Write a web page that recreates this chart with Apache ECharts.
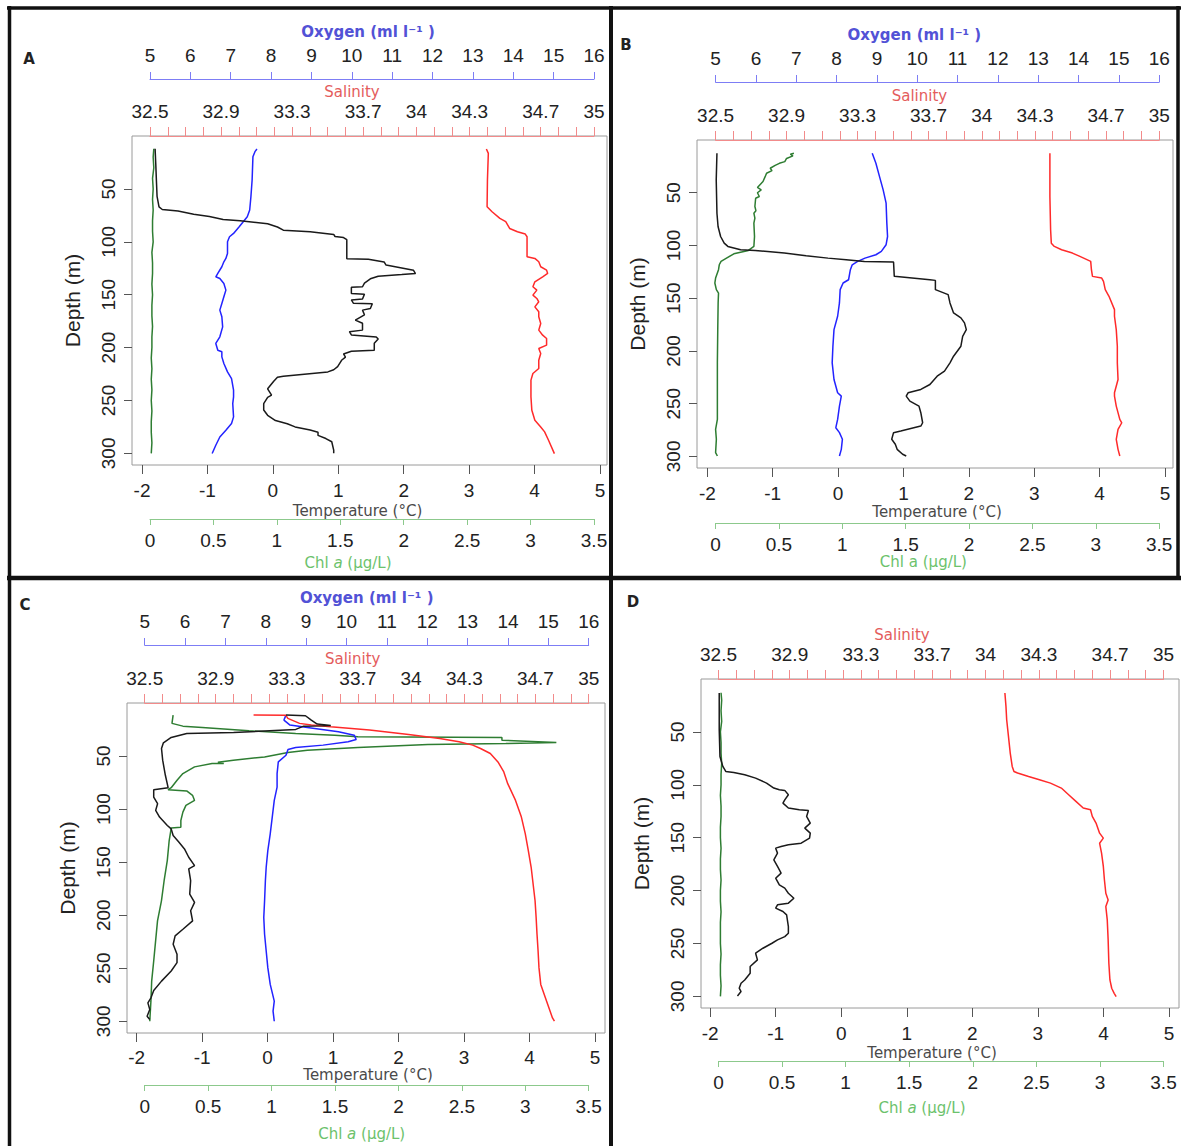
<!DOCTYPE html>
<html><head><meta charset="utf-8">
<script src="https://cdn.jsdelivr.net/npm/echarts@6/dist/echarts.min.js"></script>
<style>html,body{margin:0;padding:0;background:#fff}#c{width:1181px;height:1146px}</style>
</head><body><div id="c"></div>
<script>
// ---------- tick / label values ----------
const depthTicks = [50, 100, 150, 200, 250, 300];
const tempTicks = [-2, -1, 0, 1, 2, 3, 4, 5];
const salTicks = [32.5,32.6,32.7,32.8,32.9,33.0,33.1,33.2,33.3,33.4,33.5,33.6,33.7,33.8,33.9,34.0,34.1,34.2,34.3,34.4,34.5,34.6,34.7,34.8,34.9,35.0];
const salLabels = [32.5, 32.9, 33.3, 33.7, 34, 34.3, 34.7, 35];
const oxyTicks = [5,6,7,8,9,10,11,12,13,14,15,16];
const chlTicks = [0,0.5,1,1.5,2,2.5,3,3.5];

// ---------- Panel A : [value, depth] ----------
const tempA = [[-1.80,12],[-1.79,26],[-1.78,42],[-1.77,57],[-1.74,67],[-1.69,69.5],[-1.45,71],[-1.21,74],[-0.97,76],[-0.76,79],[-0.50,80],[-0.08,83],[0.07,86],[0.16,89],[0.57,90.5],[0.93,93],[0.95,95],[1.08,96],[1.13,98],[1.13,108],[1.13,116],[1.46,116.5],[1.70,119],[1.73,122],[1.91,124],[2.15,127],[2.18,130],[1.97,131],[1.61,132.5],[1.49,135],[1.40,139],[1.37,142.5],[1.20,143],[1.20,149],[1.40,149.5],[1.37,154],[1.20,155],[1.23,158],[1.52,158.5],[1.49,163],[1.37,164.6],[1.40,169],[1.26,174],[1.37,177],[1.37,183.5],[1.17,185],[1.20,188],[1.58,190],[1.61,192],[1.55,196],[1.55,202.5],[1.20,203.5],[1.08,206],[1.11,209],[1.05,212],[0.99,218],[0.93,221],[0.84,223],[0.16,227],[0.07,228],[0.01,232],[-0.08,239],[-0.02,245],[-0.08,247],[-0.14,253],[-0.14,259],[-0.08,264],[0.04,269],[0.22,272],[0.34,275],[0.57,278],[0.69,280],[0.69,283],[0.81,286],[0.90,289],[0.93,297],[0.93,300]];
const oxyA = [[7.65,12.3],[7.60,14.8],[7.55,19.6],[7.53,41.6],[7.50,57.4],[7.47,70.0],[7.41,76.3],[7.31,81.0],[7.21,85.8],[7.07,92.1],[6.97,95.2],[6.92,100.0],[6.92,111.0],[6.88,115.7],[6.83,118.9],[6.78,123.6],[6.68,129.9],[6.63,133.1],[6.73,134.7],[6.83,139.4],[6.88,145.7],[6.83,152.0],[6.78,158.3],[6.73,164.6],[6.78,170.9],[6.80,180.4],[6.73,189.8],[6.63,196.1],[6.68,202.5],[6.78,204.0],[6.78,208.8],[6.83,215.1],[6.92,223.0],[7.02,229.3],[7.07,240.3],[7.07,246.6],[7.05,252.9],[7.07,265.5],[7.02,271.8],[6.88,278.1],[6.73,284.5],[6.63,292.3],[6.54,300.2]];
const salA = [[34.394,12.3],[34.405,16.4],[34.400,41.6],[34.398,66.9],[34.426,71.6],[34.470,77.9],[34.503,81.0],[34.525,87.4],[34.569,90.5],[34.613,92.7],[34.623,95.2],[34.623,114.2],[34.667,115.7],[34.689,118.9],[34.700,123.6],[34.733,126.8],[34.739,129.9],[34.711,133.1],[34.667,137.8],[34.656,142.5],[34.678,145.7],[34.656,150.4],[34.678,153.6],[34.689,156.7],[34.667,161.5],[34.689,166.2],[34.689,170.9],[34.700,177.2],[34.689,183.5],[34.711,188.3],[34.733,191.4],[34.733,197.7],[34.689,200.9],[34.700,205.6],[34.689,211.9],[34.689,219.8],[34.656,224.5],[34.645,230.8],[34.645,246.6],[34.650,259.2],[34.667,268.7],[34.700,275.0],[34.722,279.7],[34.744,287.6],[34.777,300.2]];
const chlA = [[0.03,12],[0.025,20],[0.03,30],[0.02,40],[0.025,50],[0.02,60],[0.025,70],[0.02,80],[0.02,90],[0.025,100],[0.015,110],[0.02,120],[0.02,130],[0.015,140],[0.02,150],[0.015,160],[0.015,170],[0.02,180],[0.015,190],[0.015,200],[0.01,210],[0.015,220],[0.01,230],[0.015,240],[0.01,250],[0.015,260],[0.01,270],[0.01,280],[0.015,290],[0.01,300]];

// ---------- Panel B ----------
const tempB = [[-1.853,12.6],[-1.864,37.8],[-1.853,69.4],[-1.836,82.0],[-1.797,91.5],[-1.742,97.8],[-1.686,100.9],[-1.491,104.1],[-1.269,104.7],[-0.823,107.2],[-0.489,109.7],[-0.155,112.0],[0.124,113.5],[0.402,115.1],[0.848,115.7],[0.859,129.3],[1.404,132.5],[1.488,133.1],[1.488,141.9],[1.683,146.6],[1.711,154.5],[1.766,164.0],[1.878,168.7],[1.933,173.4],[1.961,179.8],[1.905,186.1],[1.878,195.5],[1.766,205.0],[1.711,211.3],[1.627,219.2],[1.515,223.9],[1.404,231.8],[1.265,236.5],[1.070,239.7],[1.042,242.8],[1.098,247.6],[1.237,252.3],[1.265,258.6],[1.293,268.1],[1.265,271.2],[0.959,275.9],[0.848,277.5],[0.820,283.8],[0.875,288.5],[0.903,293.3],[0.987,298.0],[1.042,299.6]];
const oxyB = [[8.884,12.6],[8.975,22.1],[9.065,34.7],[9.155,47.3],[9.228,59.9],[9.246,78.8],[9.264,91.5],[9.228,99.3],[9.110,105.6],[8.975,108.8],[8.704,112.0],[8.523,115.1],[8.388,118.3],[8.342,123.0],[8.297,132.5],[8.162,135.6],[8.089,141.9],[8.071,154.5],[8.026,167.1],[7.936,179.8],[7.909,195.5],[7.891,211.3],[7.936,227.1],[8.026,239.7],[8.117,242.8],[8.071,252.3],[8.026,264.9],[7.981,272.8],[8.071,277.5],[8.144,283.8],[8.117,293.3],[8.071,299.6]];
const salB = [[34.384,12.6],[34.384,53.6],[34.388,85.1],[34.392,97.8],[34.409,100.9],[34.450,104.1],[34.511,107.2],[34.553,110.4],[34.614,115.1],[34.618,123.0],[34.624,129.3],[34.676,130.9],[34.686,134.0],[34.696,141.9],[34.717,148.2],[34.748,160.8],[34.748,167.1],[34.758,179.8],[34.764,195.5],[34.764,211.3],[34.768,227.1],[34.748,239.7],[34.748,242.8],[34.758,252.3],[34.778,264.9],[34.789,268.1],[34.768,274.4],[34.758,283.8],[34.768,293.3],[34.778,299.6]];
const chlB = [[0.618,12.6],[0.590,13.5],[0.610,15.0],[0.560,17.5],[0.546,20.5],[0.503,22.1],[0.470,24.0],[0.431,26.8],[0.445,29.0],[0.402,31.5],[0.390,35.0],[0.374,39.4],[0.330,45.0],[0.360,47.3],[0.330,50.0],[0.345,53.6],[0.316,55.2],[0.310,63.1],[0.318,67.0],[0.302,69.4],[0.310,74.0],[0.302,78.8],[0.307,91.5],[0.302,100.9],[0.259,104.7],[0.144,107.9],[0.086,112.0],[0.043,115.1],[0.029,118.3],[0.023,123.0],[0.0,130.9],[-0.006,135.6],[0.006,141.9],[0.023,145.1],[0.020,154.5],[0.017,179.8],[0.014,211.3],[0.014,242.8],[0.014,264.9],[0.0,274.4],[0.006,283.8],[0.0,296.4],[0.014,299.6]];

// ---------- Panel C ----------
const tempC = [[0.281,11.4],[0.578,12.0],[0.667,16.1],[0.757,19.9],[0.965,21.1],[0.55,21.8],[0.43,24.9],[-0.52,27.8],[-1.235,28.7],[-1.473,32.5],[-1.592,37.5],[-1.621,42.9],[-1.603,53.9],[-1.562,68.1],[-1.520,79.8],[-1.740,81.7],[-1.740,88.6],[-1.681,94.9],[-1.710,101.2],[-1.651,107.5],[-1.532,115.4],[-1.473,118.6],[-1.443,124.9],[-1.354,131.2],[-1.27,137.5],[-1.205,145.4],[-1.116,153.3],[-1.205,156.4],[-1.176,167.5],[-1.19,180.1],[-1.116,187.9],[-1.176,195.8],[-1.146,205.3],[-1.294,213.2],[-1.413,219.5],[-1.443,227.4],[-1.384,236.8],[-1.384,244.7],[-1.473,252.6],[-1.621,262.1],[-1.740,270.9],[-1.782,277.8],[-1.829,282.6],[-1.800,288.9],[-1.841,295.2],[-1.800,298.3]];
const oxyC = [[8.50,11.4],[8.45,16.1],[8.60,20.8],[9.03,23.0],[9.80,27.1],[10.19,30.3],[10.24,34.4],[10.04,36.6],[9.42,39.7],[8.74,41.9],[8.55,43.8],[8.50,49.2],[8.31,55.5],[8.28,66.5],[8.28,79.2],[8.21,91.8],[8.16,107.5],[8.11,123.3],[8.05,139.1],[8.01,154.8],[7.99,167.5],[7.97,186.4],[7.95,202.1],[7.97,217.9],[8.01,233.7],[8.05,249.4],[8.11,265.2],[8.21,281.0],[8.18,290.4],[8.21,299.9]];
const salC = [[33.113,11.4],[33.295,11.6],[33.306,14.5],[33.372,19.2],[33.438,20.8],[33.547,22.4],[33.766,25.5],[33.986,29.6],[34.161,33.4],[34.270,36.6],[34.347,39.7],[34.391,42.9],[34.446,47.6],[34.489,55.5],[34.522,65.0],[34.544,76.0],[34.588,91.8],[34.621,107.5],[34.643,123.3],[34.660,139.1],[34.676,154.8],[34.687,170.6],[34.698,186.4],[34.704,202.1],[34.709,217.9],[34.715,233.7],[34.720,249.4],[34.730,265.2],[34.763,281.0],[34.796,296.8],[34.807,299.9]];
const chlC = [[0.224,11.4],[0.215,19.2],[0.301,21.8],[0.454,23.0],[0.822,26.2],[1.190,28.7],[1.497,30.3],[1.681,31.9],[2.816,32.5],[2.816,35.0],[3.245,37.2],[2.847,38.2],[2.233,39.1],[1.681,41.9],[1.282,44.5],[1.129,46.7],[0.945,50.8],[0.699,53.9],[0.577,55.8],[0.623,57.1],[0.531,57.1],[0.393,60.2],[0.301,66.5],[0.255,72.8],[0.209,79.8],[0.184,81.7],[0.331,82.9],[0.377,87.0],[0.393,91.8],[0.325,96.5],[0.301,102.8],[0.285,110.7],[0.285,117.0],[0.209,117.9],[0.193,129.6],[0.178,148.5],[0.153,167.5],[0.132,186.4],[0.101,205.3],[0.086,224.2],[0.071,243.1],[0.055,262.1],[0.049,281.0],[0.040,299.9]];

// ---------- Panel D ----------
const tempD = [[-1.861,13.2],[-1.861,47.9],[-1.850,73.2],[-1.806,82.6],[-1.761,87.4],[-1.639,88.3],[-1.472,90.5],[-1.306,93.7],[-1.139,98.4],[-1.028,103.1],[-0.944,104.7],[-0.861,105.3],[-0.806,109.4],[-0.861,114.2],[-0.889,117.3],[-0.806,122.0],[-0.639,123.6],[-0.500,124.3],[-0.528,129.9],[-0.472,136.2],[-0.556,141.0],[-0.472,145.7],[-0.483,150.4],[-0.611,155.2],[-0.806,156.7],[-0.917,158.3],[-1.000,159.9],[-0.972,164.6],[-1.028,170.9],[-0.972,177.2],[-0.917,183.5],[-1.000,188.3],[-0.944,194.6],[-0.861,197.7],[-0.806,202.5],[-0.722,207.2],[-0.806,211.9],[-0.972,213.5],[-1.000,216.6],[-0.889,219.8],[-0.833,223.0],[-0.806,234.0],[-0.806,240.3],[-0.861,243.5],[-0.972,246.6],[-1.056,249.8],[-1.194,254.5],[-1.306,259.2],[-1.278,265.5],[-1.389,271.8],[-1.389,278.1],[-1.472,284.5],[-1.528,287.6],[-1.556,292.3],[-1.528,295.5],[-1.583,299.6]];
const salD = [[34.109,13.2],[34.115,25.9],[34.119,38.5],[34.129,54.2],[34.139,70.0],[34.150,82.6],[34.160,87.4],[34.180,88.9],[34.242,92.1],[34.303,95.2],[34.365,98.4],[34.426,103.1],[34.467,109.4],[34.508,115.7],[34.549,122.0],[34.590,123.6],[34.600,129.9],[34.621,136.2],[34.641,145.7],[34.662,150.4],[34.641,155.2],[34.652,164.6],[34.662,177.2],[34.668,189.8],[34.676,202.5],[34.689,208.8],[34.676,215.1],[34.684,227.7],[34.689,246.6],[34.693,268.7],[34.699,284.5],[34.709,292.3],[34.723,297.1],[34.734,300.2]];
const chlD = [[0.02,13],[0.025,20],[0.02,30],[0.025,40],[0.015,50],[0.02,60],[0.02,70],[0.025,80],[0.02,90],[0.02,100],[0.015,110],[0.02,120],[0.02,130],[0.015,140],[0.015,150],[0.02,160],[0.015,170],[0.015,180],[0.02,190],[0.015,200],[0.015,210],[0.02,220],[0.015,230],[0.015,240],[0.015,250],[0.02,260],[0.015,270],[0.015,280],[0.02,290],[0.015,300]];

// ---------- layout (pixels) ----------
const DEPTH_MAX = 311;
const panels = [
  {id:'A', data:{temp:tempA, oxy:oxyA, sal:salA, chl:chlA}, box:{l:132,t:136,r:607,b:465}, inner:{l:150,r:594}, tMin:-2.153, tMax:5.107, oxyOff:57, chlOff:54, letter:[29,59], italic:true,
   tMargin:16, tGap:39, cGap:36, shift:{temp:-12, chl:-24, oxy:-4, sal:-20}},
  {id:'B', data:{temp:tempB, oxy:oxyB, sal:salB, chl:chlB}, box:{l:697,t:140,r:1173,b:468}, inner:{l:715.6,r:1159.2}, tMin:-2.158, tMax:5.122, oxyOff:58, chlOff:55, letter:[626,45], italic:false,
   tMargin:16, tGap:37, cGap:31, shift:{temp:2, chl:-14, oxy:-23, sal:-18}},
  {id:'C', data:{temp:tempC, oxy:oxyC, sal:salC, chl:chlC}, box:{l:127,t:703,r:605,b:1033}, inner:{l:144.7,r:588.7}, tMin:-2.148, tMax:5.153, oxyOff:58, chlOff:52, letter:[25,605], italic:true,
   tMargin:15, tGap:35, cGap:41, shift:{temp:2, chl:-5, oxy:0, sal:-14}},
  {id:'D', data:{temp:tempD, oxy:null, sal:salD, chl:chlD}, box:{l:701,t:679,r:1179,b:1008}, inner:{l:718.5,r:1163.5}, tMin:-2.139, tMax:5.153, oxyOff:null, chlOff:53, letter:[633,602], italic:true,
   tMargin:16, tGap:38, cGap:39, shift:{temp:-8, chl:-19, oxy:0, sal:-39}}
];

const NUM_FONT = '"Liberation Sans", Arial, sans-serif';
const TITLE_FONT = '"DejaVu Sans", Verdana, sans-serif';
const fmt = v => String(Math.round(v * 100) / 100);
const pad = s => s >= 0 ? [0, 0, 0, 2 * s] : [0, -2 * s, 0, 0];
const labelStyle = {fontSize: 19, lineHeight: 18, fontFamily: NUM_FONT, color: '#222'};

const grids = [], xAxes = [], yAxes = [], series = [], graphics = [];

panels.forEach(p => {
  const B = p.box, I = p.inner, h = B.b - B.t;
  const gBox = grids.length;
  grids.push({left: B.l, top: B.t, width: B.r - B.l, height: h, show: true, borderColor: '#9a9a9a', borderWidth: 1,
    backgroundColor: 'transparent', containLabel: false, outerBoundsMode: 'none'});
  const gIn = grids.length;
  grids.push({left: I.l, top: B.t, width: I.r - I.l, height: h, show: false, containLabel: false, outerBoundsMode: 'none'});

  const yBox = yAxes.length;
  yAxes.push({type: 'value', gridIndex: gBox, inverse: true, min: 0, max: DEPTH_MAX, position: 'left',
    axisLine: {show: false, onZero: false}, splitLine: {show: false},
    axisTick: {show: true, customValues: depthTicks, length: 8, lineStyle: {color: '#555'}},
    axisLabel: Object.assign({customValues: depthTicks, rotate: 90, margin: 15, formatter: fmt}, labelStyle),
    name: 'Depth (m)', nameLocation: 'middle', nameGap: 49, nameMoveOverlap: false,
    nameTextStyle: {fontSize: 21, fontFamily: NUM_FONT, color: '#222'}});
  const yIn = yAxes.length;
  yAxes.push({type: 'value', gridIndex: gIn, inverse: true, min: 0, max: DEPTH_MAX, show: false,
    axisLine: {show: false, onZero: false}, axisTick: {show: false}, axisLabel: {show: false}, splitLine: {show: false}});

  const xT = xAxes.length;
  xAxes.push({type: 'value', gridIndex: gBox, position: 'bottom', min: p.tMin, max: p.tMax,
    axisLine: {show: false, onZero: false}, splitLine: {show: false},
    axisTick: {show: true, customValues: tempTicks, length: 9, lineStyle: {color: '#555'}},
    axisLabel: Object.assign({customValues: tempTicks, margin: p.tMargin, formatter: fmt}, labelStyle),
    name: 'Temperature (°C)', nameLocation: 'middle', nameGap: p.tGap, nameMoveOverlap: false,
    nameTextStyle: {fontSize: 15, lineHeight: 14, fontFamily: TITLE_FONT, color: '#4a4a4a', padding: pad(p.shift.temp)}});

  const xS = xAxes.length;
  xAxes.push({type: 'value', gridIndex: gIn, position: 'top', offset: 0, min: 32.5, max: 35,
    axisLine: {show: true, onZero: false, lineStyle: {color: '#f28b8b', width: 1}}, splitLine: {show: false},
    axisTick: {show: true, customValues: salTicks, length: 9, lineStyle: {color: '#f28b8b'}},
    axisLabel: Object.assign({customValues: salLabels, margin: 16, formatter: fmt}, labelStyle),
    name: 'Salinity', nameLocation: 'middle', nameGap: 37, nameMoveOverlap: false,
    nameTextStyle: {fontSize: 15, lineHeight: 15, fontFamily: TITLE_FONT, color: '#e45c5c', padding: pad(p.shift.sal)}});

  const chlName = p.italic ? '{n|Chl }{i|a}{n| (µg/L)}' : 'Chl a (µg/L)';
  const chlColor = '#6cc26c';
  const xC = xAxes.length;
  xAxes.push({type: 'value', gridIndex: gIn, position: 'bottom', offset: p.chlOff, min: 0, max: 3.5,
    axisLine: {show: true, onZero: false, lineStyle: {color: '#8cc98c', width: 1}}, splitLine: {show: false},
    axisTick: {show: true, customValues: chlTicks, length: 6, lineStyle: {color: '#8cc98c'}},
    axisLabel: Object.assign({customValues: chlTicks, margin: 12, formatter: fmt}, labelStyle),
    name: chlName, nameLocation: 'middle', nameGap: p.cGap, nameMoveOverlap: false,
    nameTextStyle: {fontSize: 15, fontFamily: TITLE_FONT, color: chlColor, padding: pad(p.shift.chl),
      rich: {n: {fontSize: 15, fontFamily: TITLE_FONT, color: chlColor}, i: {fontSize: 15, fontFamily: TITLE_FONT, color: chlColor, fontStyle: 'italic'}}}});

  let xO = null;
  if (p.oxyOff !== null) {
    xO = xAxes.length;
    xAxes.push({type: 'value', gridIndex: gIn, position: 'top', offset: p.oxyOff, min: 5, max: 16,
      axisLine: {show: true, onZero: false, lineStyle: {color: '#7d7df5', width: 1}}, splitLine: {show: false},
      axisTick: {show: true, customValues: oxyTicks, length: 7, lineStyle: {color: '#7d7df5'}},
      axisLabel: Object.assign({customValues: oxyTicks, margin: 15, formatter: fmt}, labelStyle),
      name: 'Oxygen (ml l⁻¹ )', nameLocation: 'middle', nameGap: 40, nameMoveOverlap: false,
      nameTextStyle: {fontSize: 15, fontFamily: TITLE_FONT, fontWeight: 'bold', color: '#5252d6', padding: pad(p.shift.oxy)}});
  }

  const mk = (name, data, xi, yi, color) => ({
    name: name, type: 'line', xAxisIndex: xi, yAxisIndex: yi, data: data,
    symbol: 'none', showSymbol: false, clip: false, animation: false, z: 5,
    lineStyle: {color: color, width: 1.5}
  });
  series.push(mk(p.id + ' Chl a', p.data.chl, xC, yIn, '#2e7d32'));
  if (xO !== null) series.push(mk(p.id + ' Oxygen', p.data.oxy, xO, yIn, '#2323ff'));
  series.push(mk(p.id + ' Salinity', p.data.sal, xS, yIn, '#ff2a2a'));
  series.push(mk(p.id + ' Temperature', p.data.temp, xT, yBox, '#1a1a1a'));

  graphics.push({type: 'text', x: p.letter[0], y: p.letter[1], z: 100,
    style: {text: p.id, fontSize: 15, fontWeight: 'bold', fontFamily: TITLE_FONT, fill: '#222', align: 'center', verticalAlign: 'middle'}});
});

// panel frames
const frame = (x1, y1, x2, y2, w) => ({type: 'line', z: 100, shape: {x1, y1, x2, y2}, style: {stroke: '#111', lineWidth: w}});
graphics.push(frame(7, 8, 1181, 8, 3.5));
graphics.push(frame(9.5, 6, 9.5, 1146, 3.5));
graphics.push(frame(611, 6, 611, 1146, 4));
graphics.push(frame(7, 578, 1181, 578, 4.5));
graphics.push(frame(1178, 6, 1178, 578, 3.5));

const chart = echarts.init(document.getElementById('c'), null, {renderer: 'svg', width: 1181, height: 1146});
chart.setOption({
  animation: false,
  backgroundColor: '#fff',
  grid: grids,
  xAxis: xAxes,
  yAxis: yAxes,
  series: series,
  graphic: graphics
});
</script></body></html>
